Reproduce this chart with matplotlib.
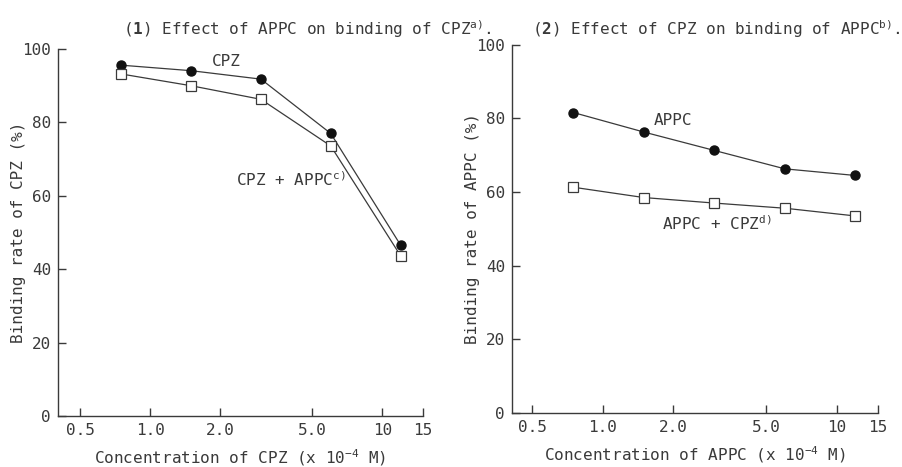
import numpy as np
import matplotlib
matplotlib.use("Agg")
import matplotlib.pyplot as plt

# concentrations (x 10^-4 M), same for both panels
conc = [0.75, 1.5, 3.0, 6.0, 12.0]

# panel 1: binding rate of CPZ (%)
cpz_alone = [95.6, 94.1, 91.8, 77.0, 46.6]
cpz_with_appc = [93.2, 90.0, 86.3, 73.6, 43.7]

# panel 2: binding rate of APPC (%)
appc_alone = [81.6, 76.3, 71.3, 66.3, 64.5]
appc_with_cpz = [61.3, 58.5, 57.0, 55.6, 53.5]

x_ticks = [0.5, 1.0, 2.0, 5.0, 10, 15]
x_ticklabels = ["0.5", "1.0", "2.0", "5.0", "10", "15"]
y_ticks = [0, 20, 40, 60, 80, 100]

ink = "#3a3a3a"
plt.rcParams["font.family"] = ["DejaVu Sans Mono"]
plt.rcParams["mathtext.fontset"] = "custom"
plt.rcParams["mathtext.rm"] = "DejaVu Sans Mono"
plt.rcParams["mathtext.bf"] = "DejaVu Sans Mono:bold"
plt.rcParams["text.color"] = ink
plt.rcParams["axes.labelcolor"] = ink

fig = plt.figure(figsize=(9.02, 4.67), dpi=100)
ax1 = fig.add_axes([0.0643, 0.109, 0.4047, 0.786])
ax2 = fig.add_axes([0.5676, 0.116, 0.4058, 0.788])


def style_axes(ax, xmin):
    ax.set_xscale("log")
    ax.set_xlim(xmin, 15)
    ax.set_ylim(0, 100)
    ax.set_xticks(x_ticks)
    ax.set_xticklabels(x_ticklabels)
    ax.xaxis.set_minor_locator(matplotlib.ticker.NullLocator())
    ax.set_yticks(y_ticks)
    for s in ["top", "right"]:
        ax.spines[s].set_visible(False)
    for s in ["left", "bottom"]:
        ax.spines[s].set_color(ink)
        ax.spines[s].set_linewidth(1.0)
    ax.tick_params(direction="in", length=6, width=1.0, colors=ink,
                   labelsize=11.5, pad=5)


def draw(ax, y_filled, y_open):
    ax.plot(conc, y_filled, color=ink, lw=0.9, marker="o", ms=6.5,
            mfc="#111111", mec="#111111", clip_on=False, zorder=3)
    ax.plot(conc, y_open, color=ink, lw=0.9, marker="s", ms=6.5,
            mfc="white", mec=ink, mew=0.9, clip_on=False, zorder=3)


style_axes(ax1, 0.40)
draw(ax1, cpz_alone, cpz_with_appc)
ax1.set_ylabel("Binding rate of CPZ (%)", fontsize=11.5, labelpad=-3)
ax1.set_xlabel(r"Concentration of CPZ (x 10$^{-4}$ M)", fontsize=11.5, labelpad=7)
ax1.text(1.85, 96.5, "CPZ", fontsize=11.5, ha="left", va="center")
ax1.text(2.35, 64.5, r"CPZ + APPC$^{\mathrm{c)}}$", fontsize=11.5, ha="left", va="center")
fig.text(0.136, 0.937, r"($\mathbf{1}$) Effect of APPC on binding of CPZ$^{\mathrm{a)}}$.",
         fontsize=11.5, ha="left", va="center")

style_axes(ax2, 0.41)
draw(ax2, appc_alone, appc_with_cpz)
ax2.set_ylabel("Binding rate of APPC (%)", fontsize=11.5, labelpad=-3)
ax2.set_xlabel(r"Concentration of APPC (x 10$^{-4}$ M)", fontsize=11.5, labelpad=7)
ax2.text(1.65, 79.5, "APPC", fontsize=11.5, ha="left", va="center")
ax2.text(1.8, 51.5, r"APPC + CPZ$^{\mathrm{d)}}$", fontsize=11.5, ha="left", va="center")
fig.text(0.59, 0.937, r"($\mathbf{2}$) Effect of CPZ on binding of APPC$^{\mathrm{b)}}$.",
         fontsize=11.5, ha="left", va="center")

fig.savefig("out.png", dpi=100)
